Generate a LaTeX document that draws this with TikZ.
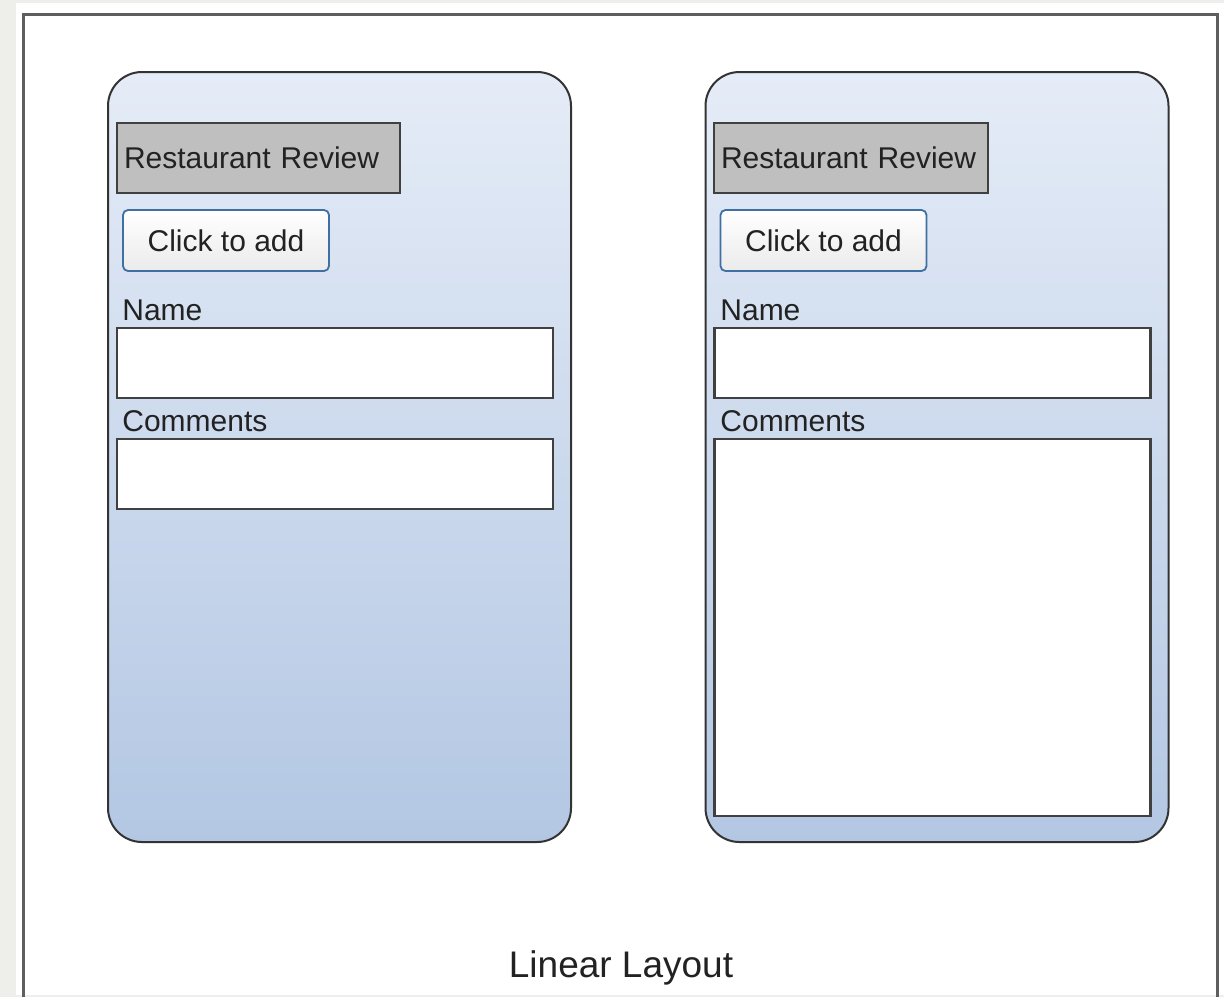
\documentclass[tikz,border=0pt]{standalone}
\usepackage{fontspec}
\setmainfont{Liberation Sans}
\usepackage{tikz}
\usetikzlibrary{positioning}

\definecolor{pagegrey}{HTML}{EEEEEA}
\definecolor{framegrey}{HTML}{5E5E5E}
\definecolor{paneltop}{HTML}{E5ECF7}
\definecolor{panelbottom}{HTML}{B3C7E3}
\definecolor{titlegrey}{HTML}{BFBFBF}
\definecolor{buttonblue}{HTML}{3F6FA3}
\definecolor{inktext}{HTML}{222222}

\begin{document}
\begin{tikzpicture}[x=0.5pt, y=-0.5pt,
    every node/.style={text=inktext, font=\fontsize{15}{18}\selectfont},
    screen/.style={draw=black!80, line width=1pt, rounded corners=17pt,
        top color=paneltop, bottom color=panelbottom,
        minimum width=231.5pt, minimum height=385pt, inner sep=0pt},
    titlebar/.style={draw=black!75, line width=1.2pt, fill=titlegrey,
        minimum height=35pt, inner xsep=3.5pt, inner ysep=0pt, align=left},
    addbutton/.style={draw=buttonblue, line width=0.9pt, rounded corners=2.5pt,
        top color=white, bottom color=black!8,
        minimum width=103pt, minimum height=30.5pt, inner sep=0pt},
    fieldbox/.style={draw=black!75, line width=1.2pt, fill=white,
        minimum width=218pt, inner sep=0pt},
    fieldlabel/.style={anchor=west, inner sep=0pt}]
    \useasboundingbox (0,0) rectangle (1224,997);

    % Page and frame
    \fill[pagegrey] (0,0) rectangle (1224,997);
    \fill[white] (16,3) rectangle (1224,995);
    \draw[framegrey, line width=1.5pt] (23,997) -- (23,14) -- (1217,14) -- (1217,997);

    % Left screen
    \node[screen] (lscreen) at (339.5,457) {};

    % Left title
    \node[titlebar, text width=134.5pt] (ltitle) at (258.5,158) {Restaurant Review};

    % Left button
    \node[addbutton] (lbutton) at (226,240.5) {Click to add};

    % Left name field
    \node[fieldlabel] (lnamelabel) at (122,310) {Name};
    \node[fieldbox, minimum height=35pt] (lname) at (335,363) {};

    % Left comments field
    \node[fieldlabel] (lcommentlabel) at (122,421) {Comments};
    \node[fieldbox, minimum height=35pt] (lcomment) at (335,474) {};

    % Right screen
    \node[screen] (rscreen) at (937,457) {};

    % Right title
    \node[titlebar, text width=130pt] (rtitle) at (851,158) {Restaurant Review};

    % Right button
    \node[addbutton] (rbutton) at (823.5,240.5) {Click to add};

    % Right name field
    \node[fieldlabel] (rnamelabel) at (720,310) {Name};
    \node[fieldbox, minimum height=35pt] (rname) at (932.5,363) {};

    % Right comments field
    \node[fieldlabel] (rcommentlabel) at (720,421) {Comments};
    \node[fieldbox, minimum height=188.5pt] (rcomment) at (932.5,627.5) {};

    % Caption
    \node[font=\fontsize{18.5}{22}\selectfont] (caption) at (621,968) {Linear Layout};

\end{tikzpicture}
\end{document}
